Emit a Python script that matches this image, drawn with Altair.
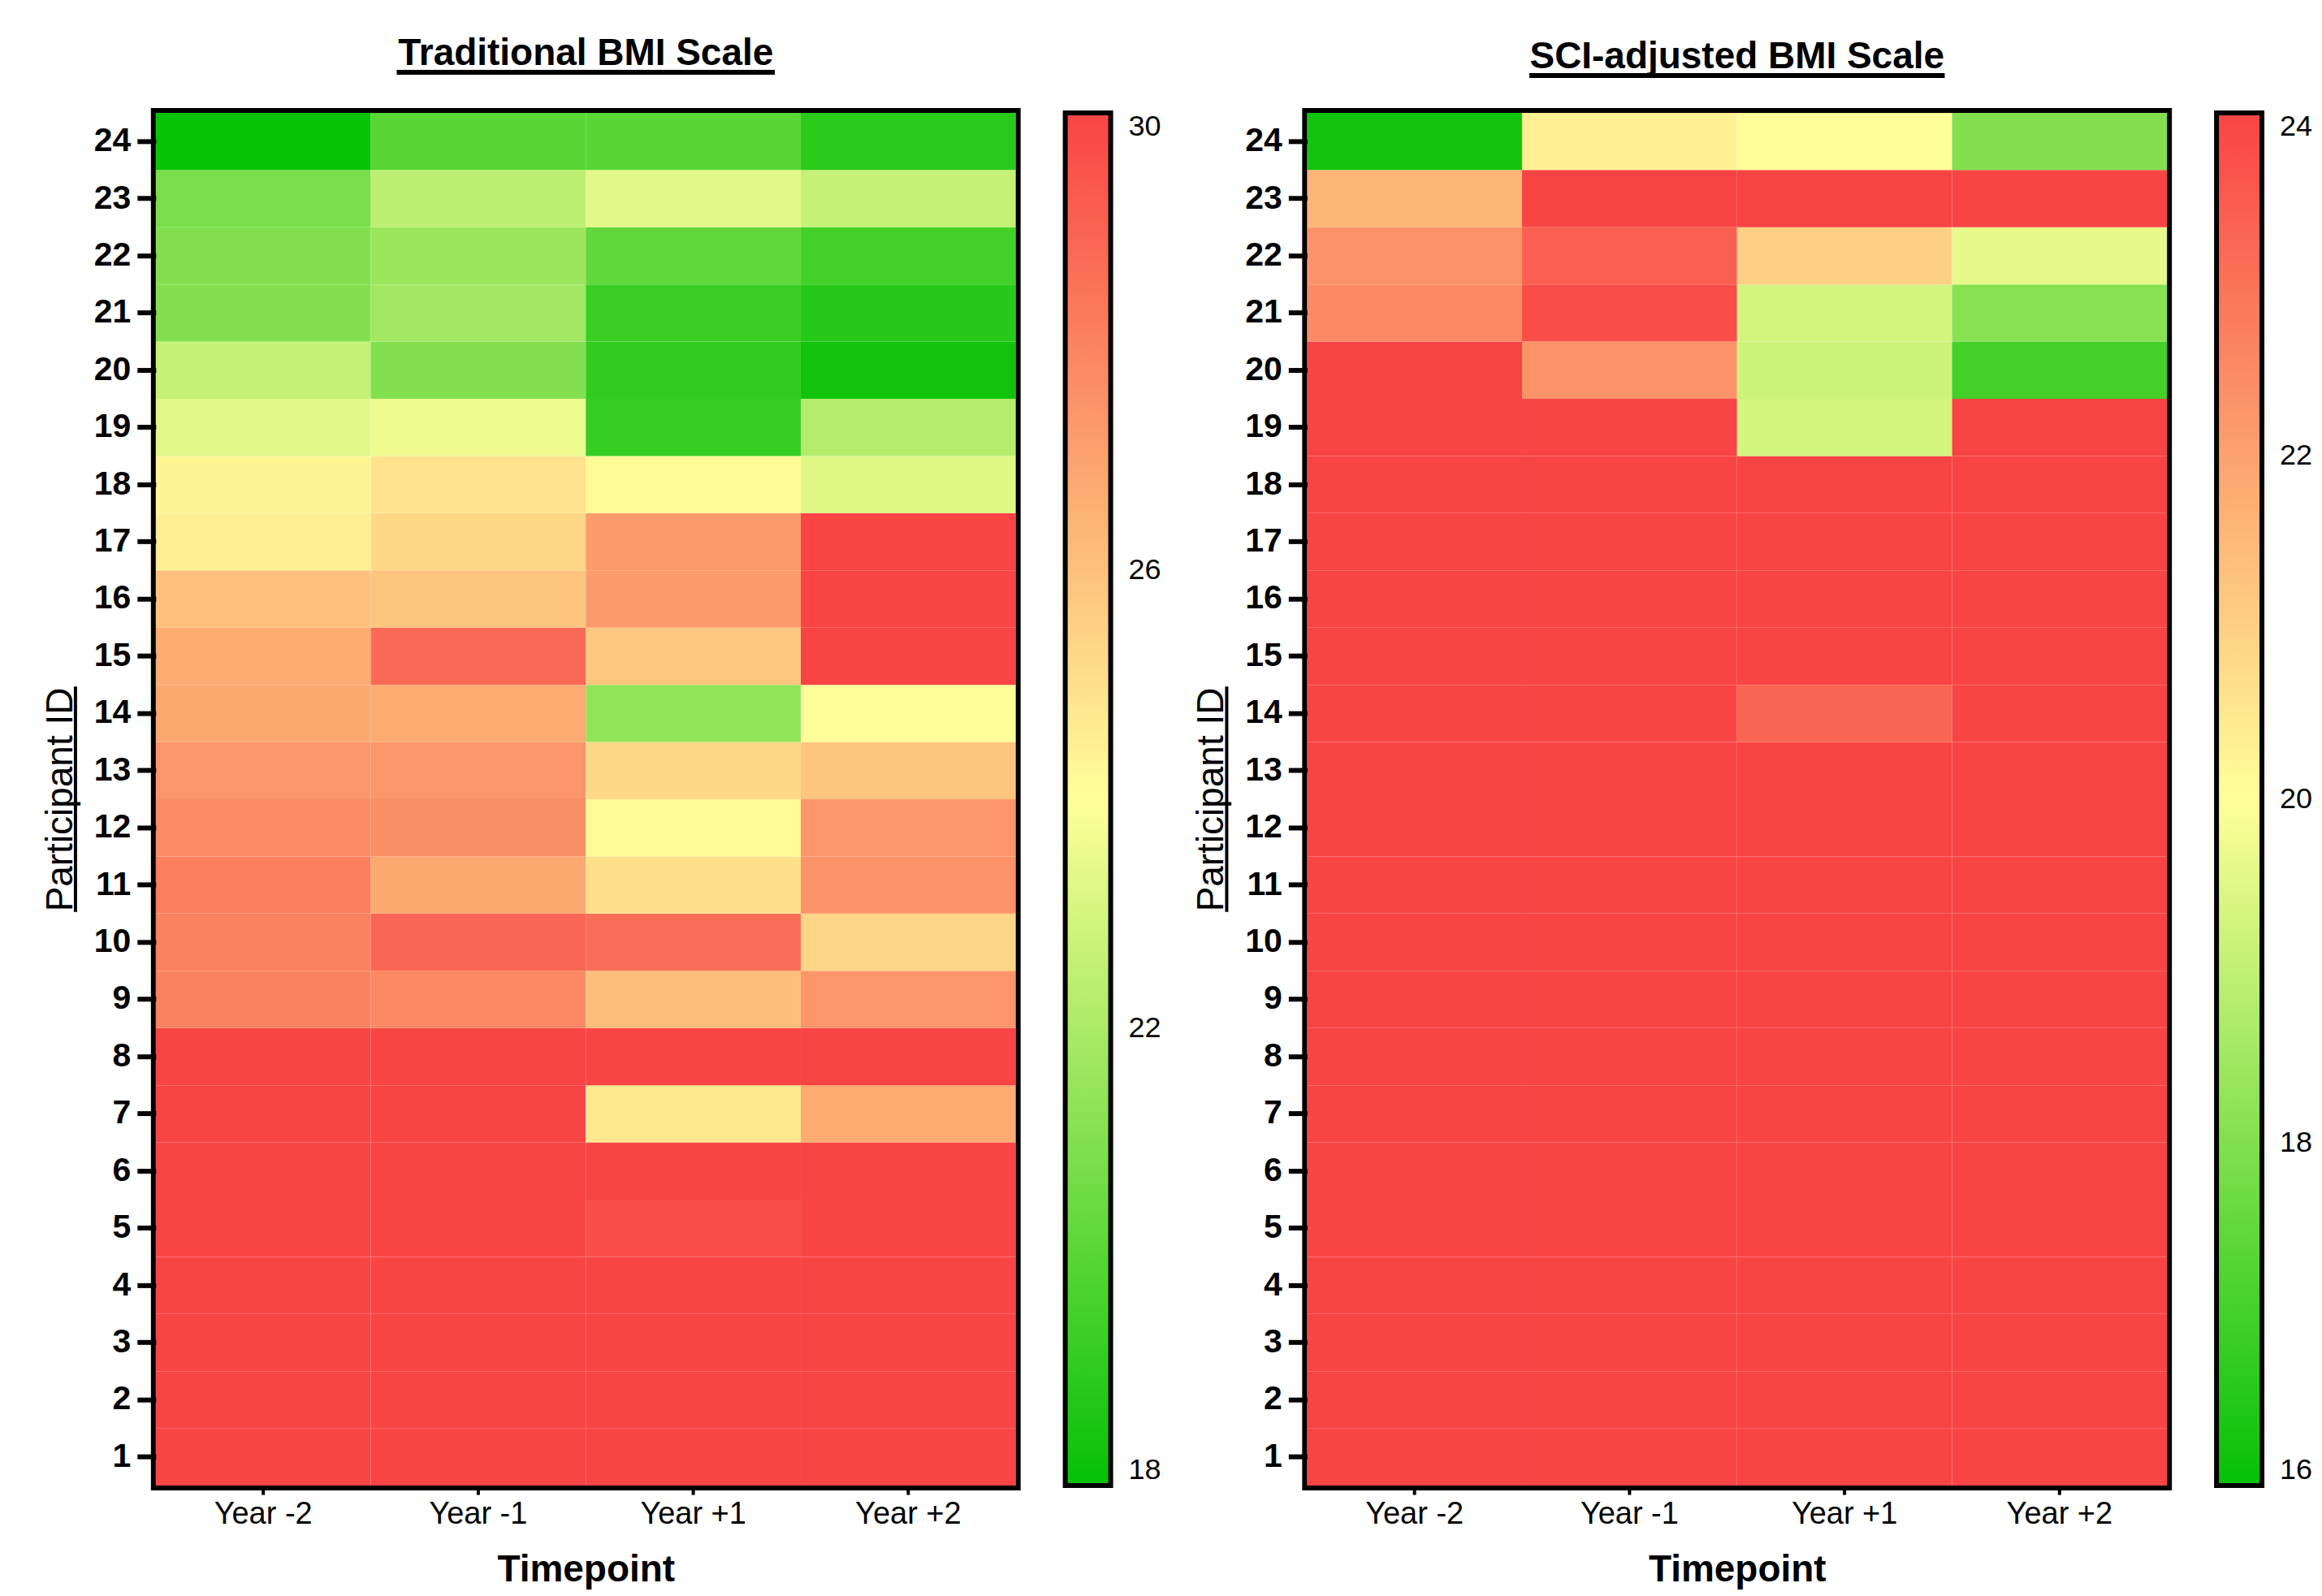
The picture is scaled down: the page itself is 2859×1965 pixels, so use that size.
import altair as alt
import pandas as pd

FONT = "Liberation Sans"

timepoints = ["Year -2", "Year -1", "Year +1", "Year +2"]
participant_ids = [1, 2, 3, 4, 5, 6, 7, 8, 9, 10, 11, 12, 13, 14, 15, 16, 17, 18, 19, 20, 21, 22, 23, 24]

# Traditional BMI values (participant 1 .. 24)
trad_year_m2 = [30, 30, 30, 30, 30, 30, 30, 30, 28.0, 28.0, 28.1, 27.7, 27.4, 26.8, 26.7, 26.05, 24.5, 24.35, 23.3, 22.6, 21.0, 21.0, 20.8, 18.1]
trad_year_m1 = [30, 30, 30, 30, 30, 30, 30, 30, 27.8, 28.9, 26.8, 27.6, 27.4, 26.7, 28.8, 25.9, 25.25, 24.9, 23.6, 21.0, 21.8, 21.6, 22.4, 20.0]
trad_year_p1 = [30, 30, 30, 30, 29.7, 30, 24.7, 30, 26.1, 28.7, 25.0, 24.2, 25.25, 21.4, 25.8, 27.2, 27.2, 24.2, 19.2, 19.1, 19.3, 20.2, 23.3, 20.0]
trad_year_p2 = [30, 30, 30, 30, 30, 30, 26.7, 30, 27.4, 25.3, 27.5, 27.4, 25.9, 24.0, 30, 30, 30, 23.2, 22.2, 18.3, 18.8, 19.5, 22.6, 18.9]

# SCI-adjusted BMI values (participant 1 .. 24)
sci_year_m2 = [24, 24, 24, 24, 24, 24, 24, 24, 24, 24, 24, 24, 24, 24, 24, 24, 24, 24, 24, 24, 22.5, 22.3, 21.6, 16.2]
sci_year_m1 = [24, 24, 24, 24, 24, 24, 24, 24, 24, 24, 24, 24, 24, 24, 24, 24, 24, 24, 24, 22.3, 23.8, 23.4, 24, 20.3]
sci_year_p1 = [24, 24, 24, 24, 24, 24, 24, 24, 24, 24, 24, 24, 24, 23.3, 24, 24, 24, 24, 19.3, 19.2, 19.3, 21.0, 24, 20.0]
sci_year_p2 = [24, 24, 24, 24, 24, 24, 24, 24, 24, 24, 24, 24, 24, 24, 24, 24, 24, 24, 24, 17.0, 18.1, 19.6, 24, 18.0]

trad_domain = [18, 24, 30]
trad_legend_ticks = [18, 22, 26, 30]
sci_domain = [16, 20, 24]
sci_legend_ticks = [16, 18, 20, 22, 24]
gradient_colors = ["#04c104", "#ffff99", "#f94444"]

W = 1060
H = 1692


def long_table(cols):
    rows = []
    for tp, vals in zip(timepoints, cols):
        for pid, v in zip(participant_ids, vals):
            rows.append({"Timepoint": tp, "Participant": pid, "BMI": v})
    return pd.DataFrame(rows)


def panel(df, domain, legend_ticks, title, title_y, underline_y, title_w):
    scale = alt.Scale(domain=domain, range=gradient_colors, interpolate="rgb", clamp=True)
    heat = alt.Chart(df).mark_rect().encode(
        x=alt.X(
            "Timepoint:N",
            sort=timepoints,
            axis=alt.Axis(
                title="Timepoint",
                labelAngle=0,
                labelFontSize=38,
                labelFont=FONT,
                labelColor="black",
                labelPadding=5,
                tickSize=11,
                tickWidth=4,
                tickColor="black",
                domain=False,
                titleFontSize=46,
                titleFont=FONT,
                titleFontWeight="bold",
                titleColor="black",
                titlePadding=28,
            ),
        ),
        y=alt.Y(
            "Participant:O",
            sort="descending",
            axis=alt.Axis(
                title="Participant ID",
                labelFontSize=41,
                labelFont=FONT,
                labelFontWeight="bold",
                labelColor="black",
                labelPadding=8,
                tickSize=23,
                tickWidth=6,
                tickColor="black",
                domain=False,
                titleFontSize=46,
                titleFont=FONT,
                titleFontWeight="normal",
                titleColor="black",
                titlePadding=17,
            ),
        ),
        color=alt.Color(
            "BMI:Q",
            scale=scale,
            legend=alt.Legend(
                title=None,
                orient="right",
                direction="vertical",
                values=legend_ticks,
                format="d",
                gradientLength=H,
                gradientThickness=56,
                gradientStrokeColor="black",
                gradientStrokeWidth=6,
                offset=61,
                padding=0,
                labelOffset=22,
                labelFontSize=36,
                labelFont=FONT,
                labelColor="black",
            ),
        ),
    )
    label_df = pd.DataFrame({"label": [title]})
    frame = alt.Chart(label_df).mark_rect(filled=False, stroke="black", strokeWidth=6).encode(
        x=alt.value(-3), x2=alt.value(W + 3), y=alt.value(-3), y2=alt.value(H + 3)
    )
    title_text = alt.Chart(label_df).mark_text(
        font=FONT, fontSize=46, fontWeight="bold", align="center", baseline="alphabetic", color="black"
    ).encode(text="label:N", x=alt.value(W / 2), y=alt.value(title_y))
    title_line = alt.Chart(label_df).mark_rule(color="black", strokeWidth=6).encode(
        x=alt.value(W / 2 - title_w / 2), x2=alt.value(W / 2 + title_w / 2), y=alt.value(underline_y)
    )
    axis_line = alt.Chart(label_df).mark_rule(color="black", strokeWidth=4).encode(
        x=alt.value(-99), y=alt.value(H / 2 - 139), y2=alt.value(H / 2 + 139)
    )
    return alt.layer(heat, frame, title_text, title_line, axis_line).properties(width=W, height=H)


trad_df = long_table([trad_year_m2, trad_year_m1, trad_year_p1, trad_year_p2])
sci_df = long_table([sci_year_m2, sci_year_m1, sci_year_p1, sci_year_p2])

left = panel(trad_df, trad_domain, trad_legend_ticks, "Traditional BMI Scale", -59, -50, 466)
right = panel(sci_df, sci_domain, sci_legend_ticks, "SCI-adjusted BMI Scale", -55, -46, 512)

chart = (
    alt.hconcat(left, right, spacing=359, bounds="flush")
    .resolve_scale(color="independent")
    .properties(padding={"left": 42, "top": 33, "right": 2, "bottom": 0})
    .configure_view(stroke=None)
    .configure(font=FONT, background="white")
)

chart.save("out.html", embed_options={"renderer": "svg", "actions": False})
